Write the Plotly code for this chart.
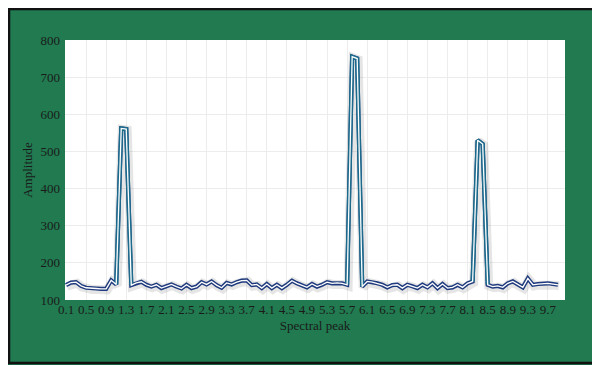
import plotly.graph_objects as go

# Data
spectral_peak = [round(0.1 * i, 1) for i in range(1, 100)]  # 0.1 .. 9.9
amplitude = [
    140, 147, 148, 138, 133, 131, 131, 130, 130, 153,   # 0.1-1.0
    142, 562, 560, 140, 146, 149, 141, 136, 141, 132,   # 1.1-2.0
    137, 142, 136, 131, 141, 132, 136, 148, 142, 150,   # 2.1-3.0
    140, 133, 146, 142, 148, 152, 153, 140, 142, 132,   # 3.1-4.0
    143, 132, 141, 132, 141, 152, 145, 140, 134, 143,   # 4.1-5.0
    136, 141, 148, 145, 146, 145, 141, 755, 750, 136,   # 5.1-6.0
    150, 148, 145, 141, 134, 140, 141, 132, 141, 137,   # 6.1-7.0
    132, 141, 134, 145, 132, 143, 132, 134, 141, 134,   # 7.1-8.0
    145, 150, 530, 520, 141, 136, 138, 134, 145, 150,   # 8.1-9.0
    141, 134, 158, 141, 143, 145, 145, 143, 141,        # 9.1-9.9
]
tick_values = [round(0.1 + 0.4 * k, 1) for k in range(25)]  # 0.1 .. 9.7
tick_labels = [f"{v:.1f}" for v in tick_values]
y_ticks = [100, 200, 300, 400, 500, 600, 700, 800]

# peak segments (indices of base-peak-peak-base)
peak_spans = [(10, 14), (56, 60), (81, 85)]

GREEN = "#217A50"
NAVY = "#1F3B7E"
TEAL = "#1C6B8C"
FONT = "Liberation Serif"

fig = go.Figure()

# soft shadow
fig.add_trace(go.Scatter(x=[v + 0.02 for v in spectral_peak], y=[a - 3 for a in amplitude],
                         mode="lines", line=dict(color="rgba(0,0,0,0.10)", width=9),
                         hoverinfo="skip", showlegend=False))
# outline
fig.add_trace(go.Scatter(x=spectral_peak, y=amplitude, mode="lines",
                         line=dict(color=NAVY, width=4.2), showlegend=False))
for a, b in peak_spans:
    fig.add_trace(go.Scatter(x=spectral_peak[a:b], y=amplitude[a:b], mode="lines",
                             line=dict(color=TEAL, width=4.2), showlegend=False))
# white core
fig.add_trace(go.Scatter(x=spectral_peak, y=amplitude, mode="lines",
                         line=dict(color="white", width=1.3), showlegend=False))

# figure is placed 8px in from the window corner; geometry in figure px
FW, FH = 592, 357
L, R, T, B = 57, 35, 32, 65
W, H = FW - L - R, FH - T - B

def px_x(p):
    return (p - L) / W

def px_y(p):
    return (FH - B - p) / H

fig.update_layout(
    width=FW, height=FH,
    margin=dict(l=L, r=R, t=T, b=B),
    paper_bgcolor=GREEN,
    plot_bgcolor="white",
    font=dict(family=FONT, size=13, color="#1a1a1a"),
    xaxis=dict(
        range=[0.08, 10.04], tickvals=tick_values, ticktext=tick_labels,
        showgrid=True, gridcolor="#ECECEC", gridwidth=1, zeroline=False,
        ticks="", tickfont=dict(family=FONT, size=13, color="#1a1a1a"),
        title=dict(text="Spectral peak", font=dict(family=FONT, size=13, color="#1a1a1a"), standoff=4),
        fixedrange=True,
    ),
    yaxis=dict(
        range=[100, 800], tickvals=y_ticks,
        showgrid=True, gridcolor="#ECECEC", gridwidth=1, zeroline=False,
        ticks="", ticklabelstandoff=4,
        tickfont=dict(family=FONT, size=13, color="#1a1a1a"),
        title=dict(text="Amplitude", font=dict(family=FONT, size=13, color="#1a1a1a"), standoff=4),
        fixedrange=True,
    ),
    shapes=[
        # dark frame
        dict(type="rect", xref="paper", yref="paper", layer="above",
             x0=px_x(1), x1=px_x(590), y0=px_y(1), y1=px_y(355),
             fillcolor="rgba(0,0,0,0)", line=dict(color="#111111", width=2.5)),
    ],
)

fig.write_html("out.html")
